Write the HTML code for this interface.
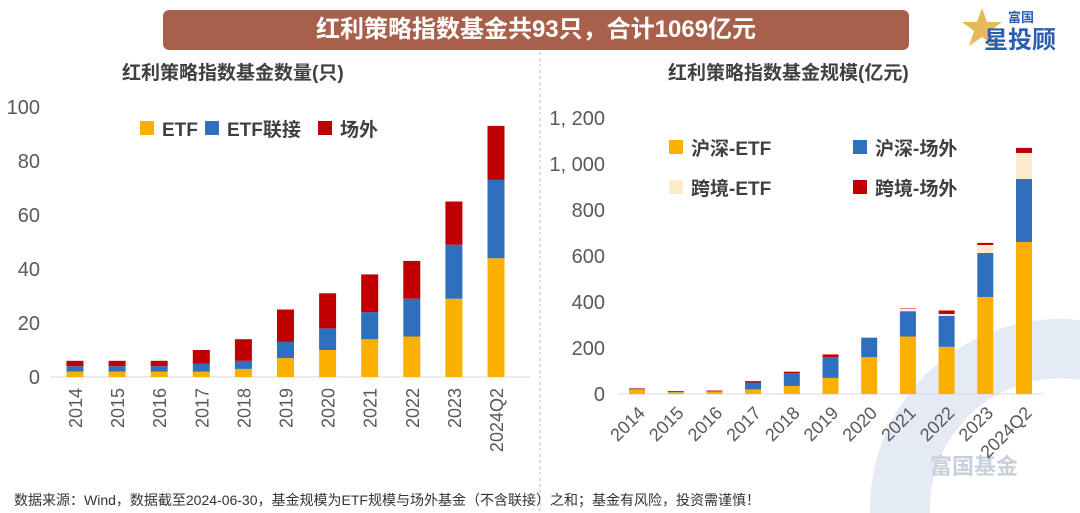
<!DOCTYPE html>
<html><head><meta charset="utf-8">
<style>
body{margin:0;width:1080px;height:513px;background:#fff;overflow:hidden;position:relative;font-family:"Liberation Sans","Noto Sans CJK SC",sans-serif;}
#banner{position:absolute;left:163px;top:10px;width:746px;height:40px;background:#a8604b;border-radius:6px;color:#fff;font-weight:bold;font-size:24px;text-align:center;line-height:40px;}
.t{position:absolute;font-weight:bold;font-size:19px;color:#404040;}
#foot{position:absolute;left:14px;top:490px;font-size:14px;color:#333;}
#logo{position:absolute;left:962px;top:6px;width:110px;height:46px;}
</style></head><body>
<div id="banner">红利策略指数基金共93只，合计1069亿元</div>
<svg id="logo" viewBox="0 0 110 46">
<polygon points="20,2 25,16 40,16 28,25 33,40 20,31 7,40 12,25 0,16 15,16" fill="#e8b85a"/>
<text x="46" y="16" font-size="13" font-weight="bold" fill="#2a5db0" font-family="Noto Sans CJK SC,sans-serif">富国</text>
<text x="22" y="42" font-size="24" font-weight="bold" fill="#2a5db0" font-family="Noto Sans CJK SC,sans-serif">星投顾</text>
</svg>
<div class="t" style="left:122px;top:58px">红利策略指数基金数量(只)</div>
<div class="t" style="left:668px;top:58px">红利策略指数基金规模(亿元)</div>
<svg id="ch" width="1080" height="513" style="position:absolute;left:0;top:0">
<line x1="540" y1="52" x2="540" y2="513" stroke="#bbb" stroke-dasharray="3,3"/>
<g id="wm" opacity="0.12"><path d="M870,513 A190,190 0 0 1 1080,320 L1080,380 A130,130 0 0 0 930,513Z" fill="#2a5db0"/></g>
<text x="930" y="474" font-size="22" fill="#c8cfdc" font-weight="bold" font-family="Noto Sans CJK SC,sans-serif">富国基金</text>
</svg>
<div id="foot">数据来源：Wind，数据截至2024-06-30，基金规模为ETF规模与场外基金（不含联接）之和；基金有风险，投资需谨慎！</div>
<script>
const cats=["2014","2015","2016","2017","2018","2019","2020","2021","2022","2023","2024Q2"];
const cntETF=[2,2,2,2,3,7,10,14,15,29,44];
const cntLink=[2,2,2,3,3,6,8,10,14,20,29];
const cntOff=[2,2,2,5,8,12,13,14,14,16,20];
const leftTicks=[0,20,40,60,80,100];
const hsETF=[20,8,10,20,35,70,160,250,205,422,661];
const hsOff=[3,3,3,30,55,90,85,110,135,191,274];
const cbETF=[0,0,0,0,0,0,0,10,8,35,113];
const cbOff=[2,2,2,6,7,12,0,2,15,9,22];
const rightTicks=[0,200,400,600,800,1000,1200];
const NS="http://www.w3.org/2000/svg";
const svg=document.getElementById('ch');
function mk(t,a,p){const e=document.createElementNS(NS,t);for(const k in a)e.setAttribute(k,a[k]);(p||svg).appendChild(e);return e;}
const C=["#fbb000","#2e6fbe","#c00000","#fcebcc"];
const L={x0:50,x1:530,y0:377,yTop:107,vmax:100,c0:75,step:42.1,bw:17};
const ly=v=>L.y0-(v/L.vmax)*(L.y0-L.yTop);
const lx=i=>L.c0+i*L.step;
mk('line',{x1:L.x0,y1:L.y0,x2:L.x1,y2:L.y0,stroke:'#d9d9d9'});
leftTicks.forEach(t=>{const e=mk('text',{x:40,y:ly(t)+7,'text-anchor':'end','font-size':20,fill:'#595959'});e.textContent=t;

});
cats.forEach((c,i)=>{let b=0;[[cntETF,C[0]],[cntLink,C[1]],[cntOff,C[2]]].forEach(([arr,col],k)=>{const v=arr[i];
const r=mk('rect',{x:lx(i)-L.bw/2,y:ly(b+v),width:L.bw,height:ly(b)-ly(b+v),fill:col});

b+=v;});
const t=mk('text',{x:0,y:0,'font-size':18,fill:'#595959','text-anchor':'end',transform:`translate(${lx(i)+7},388) rotate(-90)`});t.textContent=c;

});
[["ETF",C[0],140],["ETF联接",C[1],205],["场外",C[2],318]].forEach(([n,col,x])=>{const g=mk('g',{});


mk('rect',{x:x,y:121,width:14,height:14,fill:col},g);const t=mk('text',{x:x+22,y:136,'font-size':19,'font-weight':'bold',fill:'#404040'},g);t.textContent=n;});
const R={x0:618,x1:1043,y0:394,yTop:118,vmax:1200,c0:637,step:38.7,bw:16};
const ry=v=>R.y0-(v/R.vmax)*(R.y0-R.yTop);
const rx=i=>R.c0+i*R.step;
mk('line',{x1:R.x0,y1:R.y0,x2:R.x1,y2:R.y0,stroke:'#d9d9d9'});
rightTicks.forEach(t=>{const e=mk('text',{x:605,y:ry(t)+7,'text-anchor':'end','font-size':20,fill:'#595959'});e.textContent=t>=1000?(Math.floor(t/1000)+", "+String(t%1000).padStart(3,'0')):t;

});
cats.forEach((c,i)=>{let b=0;[[hsETF,C[0]],[hsOff,C[1]],[cbETF,C[3]],[cbOff,C[2]]].forEach(([arr,col],k)=>{const v=arr[i];if(!v)return;
const r=mk('rect',{x:rx(i)-R.bw/2,y:ry(b+v),width:R.bw,height:ry(b)-ry(b+v),fill:col});

b+=v;});
const t=mk('text',{x:0,y:0,'font-size':18,fill:'#595959','text-anchor':'end',transform:`translate(${rx(i)+9},414) rotate(-45)`});t.textContent=c;

});
[["沪深-ETF",C[0],669,147],["沪深-场外",C[1],853,147],["跨境-ETF",C[3],669,187],["跨境-场外",C[2],853,187]].forEach(([n,col,x,y])=>{const g=mk('g',{});


mk('rect',{x:x,y:y-7,width:14,height:14,fill:col},g);const t=mk('text',{x:x+22,y:y+8,'font-size':19,'font-weight':'bold',fill:'#404040'},g);t.textContent=n;});
</script>
</body></html>
